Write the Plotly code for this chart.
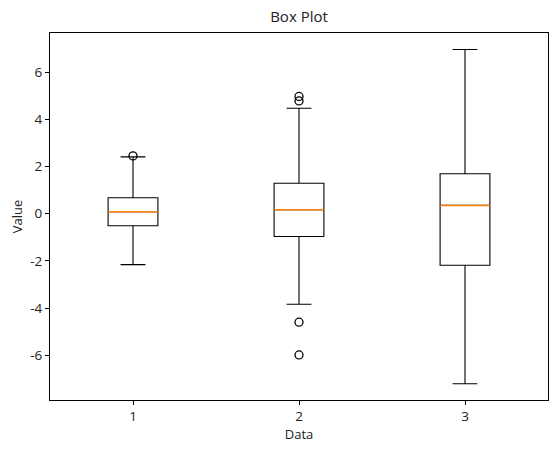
import plotly.graph_objects as go

positions = [1, 2, 3]
q1 = [-0.51, -0.97, -2.19]
medians = [0.08, 0.17, 0.35]
q3 = [0.675, 1.29, 1.69]
lower = [-2.16, -3.84, -7.21]
upper = [2.41, 4.47, 6.96]
outlier_x = [1, 2, 2, 2, 2]
outlier_y = [2.45, 4.97, 4.78, -4.6, -5.99]
ytick_vals = [-6, -4, -2, 0, 2, 4, 6]
ytick_text = ["-6", "-4", "-2", "0", "2", "4", "6"]

box_w = 0.3
font = "Open Sans"
txt = "#222222"

fig = go.Figure()
for i, p in enumerate(positions):
    fig.add_trace(go.Box(
        x = [p],
        q1 = [q1[i]],
        median = [medians[i]],
        q3 = [q3[i]],
        lowerfence = [lower[i]],
        upperfence = [upper[i]],
        width = box_w,
        whiskerwidth = 0.5,
        boxpoints = False,
        line = dict(color = "black", width = 1.1),
        fillcolor = "rgba(0,0,0,0)",
        showlegend = False
    ))
    # orange median line drawn on top (wide enough to hide the box's own black median)
    fig.add_trace(go.Scatter(
        x = [p - box_w / 2, p + box_w / 2],
        y = [medians[i], medians[i]],
        mode = "lines",
        line = dict(color = "#ff7f0e", width = 1.5),
        showlegend = False,
        hoverinfo = "skip"
    ))

fig.add_trace(go.Scatter(
    x = outlier_x,
    y = outlier_y,
    mode = "markers",
    marker = dict(symbol = "circle-open", size = 8, color = "black", line = dict(width = 1.3)),
    showlegend = False
))

axis_style = dict(
    showline = True, linecolor = "black", linewidth = 1, mirror = True,
    ticks = "outside", ticklen = 4, tickcolor = "black",
    showgrid = False, zeroline = False, automargin = False,
    tickfont = dict(family = font, size = 13.5, color = txt)
)

fig.update_layout(
    width = 557, height = 452,
    paper_bgcolor = "white", plot_bgcolor = "white",
    margin = dict(l = 50, r = 9, t = 33, b = 52),
    font = dict(family = font, size = 13, color = txt),
    title = dict(text = "Box Plot", xref = "paper", x = 0.5, xanchor = "center",
                 y = 0.962, yanchor = "middle",
                 font = dict(family = font, size = 15, color = txt)),
    xaxis = dict(axis_style, range = [0.5, 3.5], tickvals = positions,
                 title = dict(text = "Data", standoff = 2, font = dict(family = font, size = 13, color = txt))),
    yaxis = dict(axis_style, range = [-7.9, 7.66], tickvals = ytick_vals, ticktext = ytick_text,
                 title = dict(text = "Value", standoff = 4, font = dict(family = font, size = 13, color = txt))),
)

# page body has a default 8px margin, drop it so the figure sits at the corner
fig.write_html("out.html", config = {"displayModeBar": False},
               post_script = "document.body.style.margin = '0';")
